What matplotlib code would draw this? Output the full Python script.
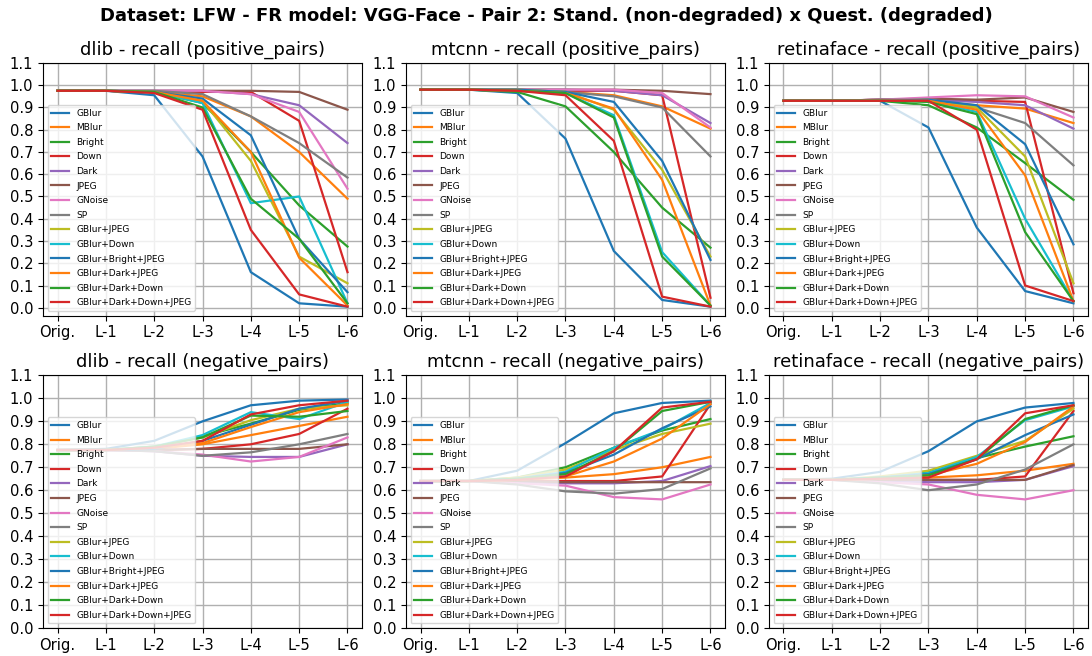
import matplotlib
matplotlib.use("Agg")
import matplotlib.pyplot as plt

levels = ["Orig.", "L-1", "L-2", "L-3", "L-4", "L-5", "L-6"]
series_names = ["GBlur", "MBlur", "Bright", "Down", "Dark", "JPEG", "GNoise", "SP",
                "GBlur+JPEG", "GBlur+Down", "GBlur+Bright+JPEG", "GBlur+Dark+JPEG",
                "GBlur+Dark+Down", "GBlur+Dark+Down+JPEG"]

dlib_pos = [
    [0.975, 0.975, 0.955, 0.68, 0.16, 0.02, 0.005],
    [0.975, 0.975, 0.97, 0.95, 0.86, 0.70, 0.49],
    [0.975, 0.975, 0.97, 0.92, 0.70, 0.46, 0.275],
    [0.975, 0.975, 0.97, 0.97, 0.97, 0.84, 0.16],
    [0.975, 0.975, 0.975, 0.975, 0.96, 0.91, 0.74],
    [0.975, 0.975, 0.975, 0.975, 0.975, 0.97, 0.89],
    [0.975, 0.975, 0.975, 0.975, 0.96, 0.88, 0.535],
    [0.975, 0.975, 0.975, 0.96, 0.86, 0.74, 0.585],
    [0.975, 0.975, 0.97, 0.93, 0.66, 0.23, 0.11],
    [0.975, 0.975, 0.97, 0.92, 0.47, 0.50, 0.02],
    [0.975, 0.975, 0.97, 0.94, 0.775, 0.31, 0.07],
    [0.975, 0.975, 0.97, 0.93, 0.70, 0.225, 0.01],
    [0.975, 0.975, 0.97, 0.90, 0.49, 0.31, 0.02],
    [0.975, 0.975, 0.965, 0.89, 0.35, 0.06, 0.005],
]
mtcnn_pos = [
    [0.98, 0.98, 0.965, 0.76, 0.255, 0.035, 0.005],
    [0.98, 0.98, 0.98, 0.97, 0.955, 0.905, 0.805],
    [0.98, 0.98, 0.97, 0.905, 0.70, 0.45, 0.27],
    [0.98, 0.98, 0.98, 0.975, 0.975, 0.955, 0.045],
    [0.98, 0.98, 0.98, 0.98, 0.975, 0.955, 0.83],
    [0.98, 0.98, 0.98, 0.98, 0.98, 0.975, 0.96],
    [0.98, 0.98, 0.98, 0.98, 0.98, 0.965, 0.81],
    [0.98, 0.98, 0.98, 0.97, 0.95, 0.90, 0.68],
    [0.98, 0.98, 0.98, 0.97, 0.89, 0.62, 0.23],
    [0.98, 0.98, 0.975, 0.965, 0.865, 0.25, 0.01],
    [0.98, 0.98, 0.98, 0.97, 0.925, 0.66, 0.215],
    [0.98, 0.98, 0.975, 0.965, 0.895, 0.575, 0.01],
    [0.98, 0.98, 0.975, 0.965, 0.855, 0.23, 0.01],
    [0.98, 0.98, 0.975, 0.955, 0.75, 0.05, 0.005],
]
retina_pos = [
    [0.93, 0.93, 0.93, 0.81, 0.36, 0.075, 0.02],
    [0.93, 0.93, 0.93, 0.93, 0.91, 0.895, 0.83],
    [0.93, 0.93, 0.93, 0.91, 0.81, 0.65, 0.485],
    [0.93, 0.93, 0.935, 0.935, 0.93, 0.925, 0.065],
    [0.93, 0.93, 0.935, 0.935, 0.925, 0.91, 0.805],
    [0.93, 0.93, 0.935, 0.94, 0.935, 0.945, 0.88],
    [0.93, 0.93, 0.935, 0.945, 0.955, 0.95, 0.855],
    [0.93, 0.93, 0.935, 0.935, 0.90, 0.83, 0.64],
    [0.93, 0.93, 0.93, 0.935, 0.90, 0.68, 0.11],
    [0.93, 0.93, 0.93, 0.93, 0.88, 0.40, 0.03],
    [0.93, 0.93, 0.93, 0.935, 0.91, 0.735, 0.285],
    [0.93, 0.93, 0.93, 0.93, 0.89, 0.595, 0.03],
    [0.93, 0.93, 0.93, 0.925, 0.87, 0.34, 0.03],
    [0.93, 0.93, 0.93, 0.93, 0.80, 0.10, 0.03],
]
dlib_neg = [
    [0.775, 0.78, 0.815, 0.90, 0.97, 0.99, 0.995],
    [0.775, 0.775, 0.78, 0.80, 0.84, 0.88, 0.92],
    [0.775, 0.775, 0.785, 0.835, 0.89, 0.95, 0.98],
    [0.775, 0.775, 0.775, 0.78, 0.80, 0.845, 0.955],
    [0.775, 0.775, 0.77, 0.75, 0.745, 0.745, 0.80],
    [0.775, 0.775, 0.775, 0.78, 0.78, 0.78, 0.80],
    [0.775, 0.775, 0.77, 0.755, 0.725, 0.745, 0.83],
    [0.775, 0.775, 0.77, 0.75, 0.765, 0.80, 0.845],
    [0.775, 0.775, 0.79, 0.83, 0.905, 0.955, 0.97],
    [0.775, 0.775, 0.79, 0.84, 0.94, 0.91, 0.985],
    [0.775, 0.775, 0.78, 0.815, 0.885, 0.955, 0.99],
    [0.775, 0.775, 0.785, 0.805, 0.875, 0.94, 0.975],
    [0.775, 0.775, 0.79, 0.83, 0.925, 0.92, 0.945],
    [0.775, 0.775, 0.785, 0.815, 0.93, 0.97, 0.99],
]
mtcnn_neg = [
    [0.64, 0.64, 0.685, 0.805, 0.935, 0.98, 0.99],
    [0.64, 0.64, 0.645, 0.655, 0.67, 0.70, 0.745],
    [0.64, 0.64, 0.655, 0.70, 0.785, 0.86, 0.91],
    [0.64, 0.64, 0.64, 0.64, 0.64, 0.66, 0.975],
    [0.64, 0.64, 0.635, 0.63, 0.63, 0.64, 0.705],
    [0.64, 0.64, 0.64, 0.635, 0.635, 0.635, 0.635],
    [0.64, 0.64, 0.63, 0.62, 0.57, 0.56, 0.625],
    [0.64, 0.64, 0.625, 0.595, 0.585, 0.605, 0.695],
    [0.64, 0.64, 0.655, 0.69, 0.775, 0.845, 0.89],
    [0.64, 0.64, 0.65, 0.68, 0.785, 0.865, 0.98],
    [0.64, 0.64, 0.65, 0.675, 0.755, 0.87, 0.965],
    [0.64, 0.64, 0.645, 0.66, 0.725, 0.825, 0.975],
    [0.64, 0.64, 0.65, 0.67, 0.77, 0.945, 0.985],
    [0.64, 0.64, 0.645, 0.66, 0.77, 0.96, 0.985],
]
retina_neg = [
    [0.645, 0.65, 0.68, 0.77, 0.90, 0.96, 0.98],
    [0.645, 0.645, 0.65, 0.655, 0.665, 0.685, 0.715],
    [0.645, 0.645, 0.655, 0.68, 0.74, 0.79, 0.835],
    [0.645, 0.645, 0.645, 0.645, 0.645, 0.66, 0.945],
    [0.645, 0.645, 0.64, 0.635, 0.635, 0.645, 0.705],
    [0.645, 0.645, 0.645, 0.645, 0.645, 0.645, 0.71],
    [0.645, 0.645, 0.635, 0.625, 0.58, 0.56, 0.60],
    [0.645, 0.645, 0.63, 0.60, 0.625, 0.69, 0.80],
    [0.645, 0.645, 0.66, 0.685, 0.75, 0.815, 0.955],
    [0.645, 0.645, 0.655, 0.675, 0.745, 0.905, 0.965],
    [0.645, 0.645, 0.655, 0.67, 0.735, 0.84, 0.93],
    [0.645, 0.645, 0.65, 0.665, 0.715, 0.81, 0.965],
    [0.645, 0.645, 0.655, 0.665, 0.735, 0.91, 0.97],
    [0.645, 0.645, 0.65, 0.655, 0.735, 0.935, 0.97],
]

panels = [
    ("dlib - recall (positive_pairs)", dlib_pos, True),
    ("mtcnn - recall (positive_pairs)", mtcnn_pos, True),
    ("retinaface - recall (positive_pairs)", retina_pos, True),
    ("dlib - recall (negative_pairs)", dlib_neg, False),
    ("mtcnn - recall (negative_pairs)", mtcnn_neg, False),
    ("retinaface - recall (negative_pairs)", retina_neg, False),
]

yticks = [round(0.1 * i, 1) for i in range(12)]

fig, axes = plt.subplots(2, 3, figsize=(10.92, 6.56), dpi=100)
fig.subplots_adjust(left=0.0394, right=0.9963, top=0.904, bottom=0.0427,
                    hspace=0.237, wspace=0.138)
for ax, (title, data, pos) in zip(axes.flat, panels):
    x = list(range(len(levels)))
    for name, vals in zip(series_names, data):
        ax.plot(x, vals, label=name, linewidth=1.6)
    ax.set_title(title, fontsize=13)
    ax.set_xticks(x)
    ax.set_xticklabels(levels, fontsize=10.6)
    ax.set_yticks(yticks)
    ax.set_yticklabels([f"{t:.1f}" for t in yticks], fontsize=10.6)
    if pos:
        ax.set_ylim(-0.035, 1.1)
    else:
        ax.set_ylim(0.0, 1.1)
    ax.grid(True, linewidth=1.0)
    ax.legend(loc="lower left", fontsize=6.5, framealpha=0.8, labelspacing=0.62)

fig.suptitle("Dataset: LFW - FR model: VGG-Face - Pair 2: Stand. (non-degraded) x Quest. (degraded)",
             fontsize=13, fontweight="bold", y=0.99)
fig.savefig("out.png", dpi=100)
